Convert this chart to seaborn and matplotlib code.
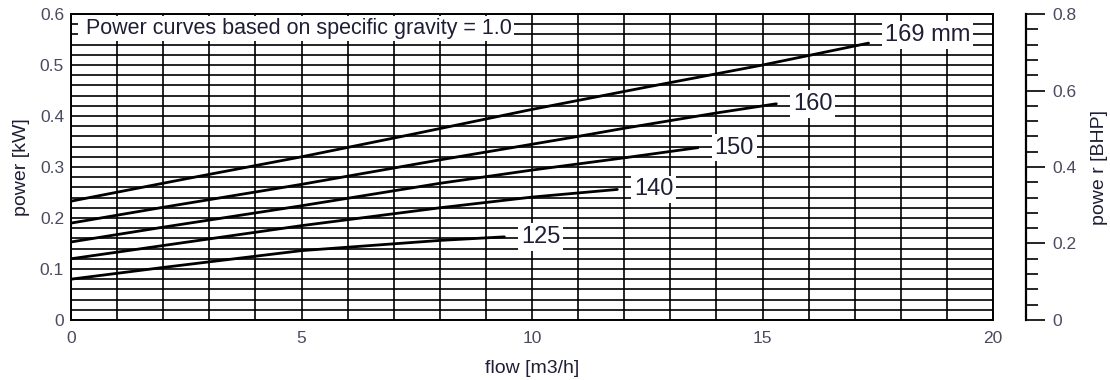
import numpy as np
import pandas as pd
import matplotlib
matplotlib.use("Agg")
import matplotlib.pyplot as plt
from matplotlib.ticker import MultipleLocator, FixedLocator
import seaborn as sns

# Impeller diameters and their power curves (flow in m3/h, power in kW)
sizes = ["169", "160", "150", "140", "125"]
size_labels = ["169 mm", "160", "150", "140", "125"]

flow_169 = [0, 2.5, 5, 7.5, 10, 12.5, 15, 17.3]
power_169 = [0.233, 0.277, 0.320, 0.366, 0.413, 0.457, 0.500, 0.543]

flow_160 = [0, 2, 5, 8, 11, 12, 14, 15.3]
power_160 = [0.190, 0.221, 0.266, 0.314, 0.360, 0.376, 0.406, 0.424]

flow_150 = [0, 2, 5, 8, 10, 12, 13.6]
power_150 = [0.153, 0.182, 0.224, 0.268, 0.294, 0.318, 0.338]

flow_140 = [0, 2, 5, 8, 10, 11.85]
power_140 = [0.120, 0.146, 0.185, 0.220, 0.241, 0.256]

flow_125 = [0, 2, 5, 8, 9.4]
power_125 = [0.080, 0.103, 0.136, 0.156, 0.163]

x_ticks = [0, 5, 10, 15, 20]
y_ticks_kw = [0, 0.1, 0.2, 0.3, 0.4, 0.5, 0.6]
y_tick_labels_kw = ["0", "0.1", "0.2", "0.3", "0.4", "0.5", "0.6"]
y_ticks_bhp = [0, 0.2, 0.4, 0.6, 0.8]
y_tick_labels_bhp = ["0", "0.2", "0.4", "0.6", "0.8"]

note = "Power curves based on specific gravity = 1.0"

flows = [flow_169, flow_160, flow_150, flow_140, flow_125]
powers = [power_169, power_160, power_150, power_140, power_125]

df = pd.concat(
    [pd.DataFrame({"flow": f, "power": p, "size": s})
     for f, p, s in zip(flows, powers, sizes)],
    ignore_index=True,
)

sns.set_theme(style="white")
plt.rcParams["font.family"] = ["Liberation Sans", "DejaVu Sans"]

text_dark = "#1e1e36"
tick_col = "#4a4a60"

fig = plt.figure(figsize=(11.1, 3.8), dpi=100)
ax = fig.add_axes([0.064, 0.158, 0.8306, 0.805])

sns.lineplot(
    data=df, x="flow", y="power", hue="size", units="size", estimator=None,
    palette={s: "black" for s in sizes}, legend=False, linewidth=2.0,
    sort=True, ax=ax, zorder=3,
)

ax.set_xlim(0, 20)
ax.set_ylim(0, 0.6)

# dense chart-paper grid: every 1 m3/h and every 0.02 kW
ax.xaxis.set_major_locator(FixedLocator(x_ticks))
ax.xaxis.set_minor_locator(MultipleLocator(1))
ax.set_yticks(y_ticks_kw)
ax.set_yticklabels(y_tick_labels_kw)
ax.yaxis.set_minor_locator(MultipleLocator(0.02))
ax.grid(which="both", color="black", linewidth=1.2)
ax.set_axisbelow(True)

ax.tick_params(axis="both", which="both", length=0, colors=tick_col, labelsize=12.5)
ax.tick_params(axis="x", pad=8)
ax.tick_params(axis="y", pad=5)

for sp in ax.spines.values():
    sp.set_visible(True)
    sp.set_color("black")
    sp.set_linewidth(1.4)
    sp.set_zorder(6)

ax.set_xlabel("flow [m3/h]", fontsize=14, color=text_dark)
ax.set_ylabel("power [kW]", fontsize=14, color=text_dark)
ax.xaxis.set_label_coords(0.5, -0.13)
ax.yaxis.set_label_coords(-0.044, 0.5)

# note across the top band
ax.text(0.2, 0.572, " " + note, fontsize=15.5, color=text_dark,
        ha="left", va="center", zorder=5,
        bbox=dict(boxstyle="square,pad=0.1", fc="white", ec="none"))

# curve labels at the end of each curve
for f, p, lab in zip(flows, powers, size_labels):
    dy = 6 if lab.endswith("mm") else 0
    ax.annotate(lab, xy=(f[-1], p[-1]), xytext=(12, dy),
                textcoords="offset points", ha="left", va="center",
                fontsize=17, color=text_dark, zorder=5,
                bbox=dict(boxstyle="square,pad=0.12", fc="white", ec="none"))

# secondary scale in brake horsepower
ax2 = ax.twinx()
ax2.set_ylim(0, 0.8)
ax2.grid(False)
for name in ("left", "top", "bottom"):
    ax2.spines[name].set_visible(False)
ax2.spines["right"].set_visible(True)
ax2.spines["right"].set_position(("outward", 24))
ax2.spines["right"].set_color("black")
ax2.spines["right"].set_linewidth(1.6)
ax2.set_yticks(y_ticks_bhp)
ax2.set_yticklabels(y_tick_labels_bhp)
ax2.yaxis.set_minor_locator(MultipleLocator(0.04))
ax2.tick_params(axis="y", which="major", direction="out", length=13.5, width=1.2,
                color="black", labelcolor=tick_col, labelsize=12.5, pad=5,
                right=True, left=False)
ax2.tick_params(axis="y", which="minor", direction="out", length=8.5, width=1.2,
                color="black", right=True, left=False)
ax2.set_ylabel("powe r [BHP]", fontsize=14, color=text_dark)
ax2.yaxis.set_label_coords(1.106, 0.5)

fig.savefig("out.png", dpi=100)
